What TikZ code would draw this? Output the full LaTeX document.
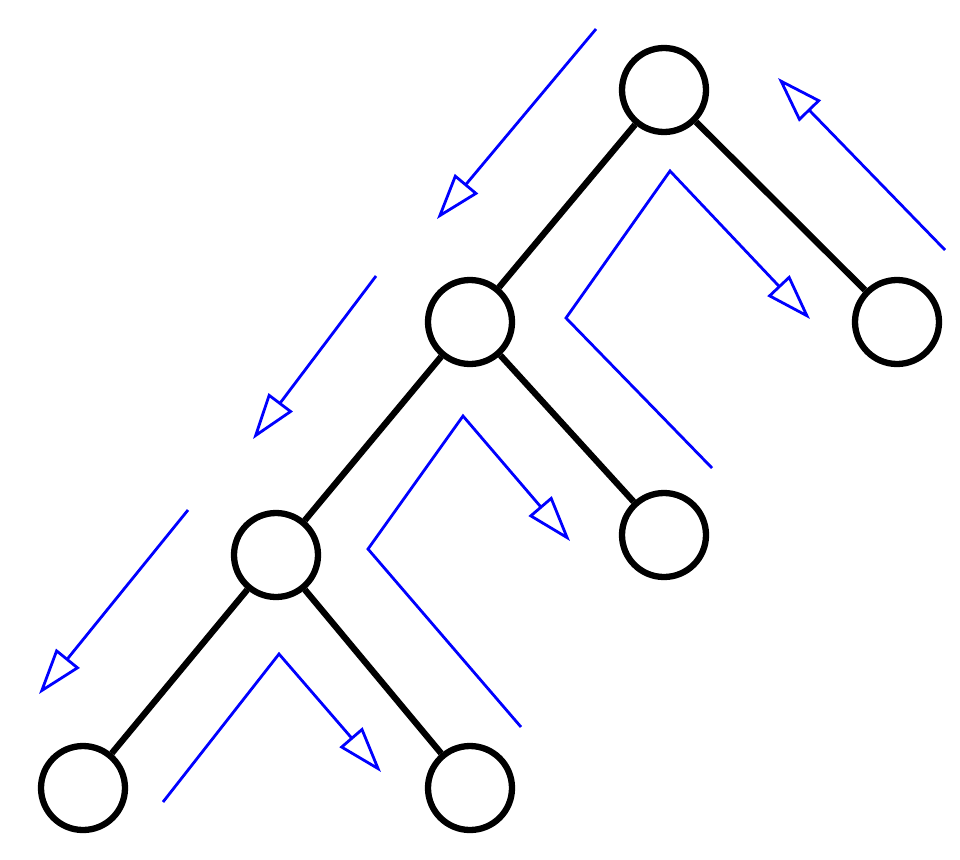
\documentclass[tikz,border=0pt]{standalone}
\usetikzlibrary{arrows.meta}
\begin{document}
\begin{tikzpicture}[x=1pt,y=-1pt,
  treenode/.style={circle,draw=black,line width=6.3pt,minimum size=84pt,inner sep=0pt},
  treeedge/.style={draw=black,line width=6.3pt},
  walk/.style={draw=blue,line width=2.8pt,line join=miter,-{Triangle[open,length=46pt,width=30pt]}}]
\useasboundingbox (0,0) rectangle (960,859);
\node[treenode] (r) at (664,90) {};
\node[treenode] (rr) at (897,322) {};
\node[treenode] (l) at (470,322) {};
\node[treenode] (lr) at (664,535) {};
\node[treenode] (ll) at (276,555) {};
\node[treenode] (lll) at (83,788) {};
\node[treenode] (llr) at (470,788) {};
\draw[treeedge] (r) -- (l);
\draw[treeedge] (r) -- (rr);
\draw[treeedge] (l) -- (ll);
\draw[treeedge] (l) -- (lr);
\draw[treeedge] (ll) -- (lll);
\draw[treeedge] (ll) -- (llr);
% traversal
\coordinate (a1) at (596,29); \coordinate (a2) at (437,219);
\coordinate (b1) at (376,276); \coordinate (b2) at (253,439);
\coordinate (c1) at (188,510); \coordinate (c2) at (39,694);
\coordinate (d1) at (163,802); \coordinate (d2) at (279,654); \coordinate (d3) at (381,772);
\coordinate (e1) at (521,727); \coordinate (e2) at (368,549); \coordinate (e3) at (463,416); \coordinate (e4) at (570,541);
\coordinate (f1) at (712,468); \coordinate (f2) at (566,318); \coordinate (f3) at (670,171); \coordinate (f4) at (810,319);
\coordinate (g1) at (945,250); \coordinate (g2) at (778,78);
\draw[walk] (a1) -- (a2);
\draw[walk] (b1) -- (b2);
\draw[walk] (c1) -- (c2);
\draw[walk] (d1) -- (d2) -- (d3);
\draw[walk] (e1) -- (e2) -- (e3) -- (e4);
\draw[walk] (f1) -- (f2) -- (f3) -- (f4);
\draw[walk] (g1) -- (g2);
\end{tikzpicture}
\end{document}
